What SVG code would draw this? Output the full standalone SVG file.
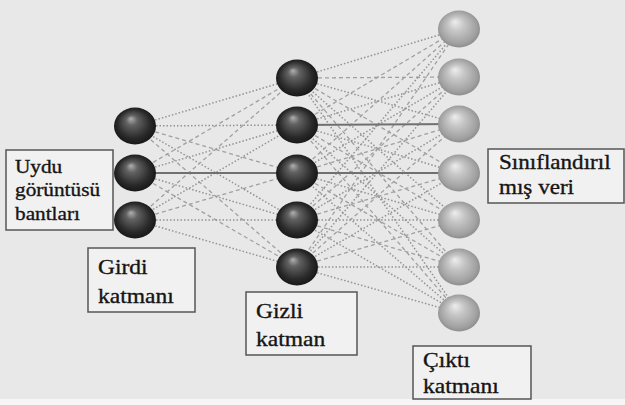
<svg xmlns="http://www.w3.org/2000/svg" width="625" height="405" viewBox="0 0 625 405">
<defs>
<radialGradient id="dark" cx="0.5" cy="0.5" r="0.55" fx="0.4" fy="0.3">
<stop offset="0" stop-color="#b0b0b0"/>
<stop offset="0.25" stop-color="#626262"/>
<stop offset="0.7" stop-color="#2a2a2a"/>
<stop offset="1" stop-color="#121212"/>
</radialGradient>
<radialGradient id="light" cx="0.5" cy="0.5" r="0.55" fx="0.4" fy="0.3">
<stop offset="0" stop-color="#eeeeee"/>
<stop offset="0.35" stop-color="#c6c6c6"/>
<stop offset="0.8" stop-color="#a0a0a0"/>
<stop offset="1" stop-color="#848484"/>
</radialGradient>
</defs>
<style>
.dt{stroke:#939393;stroke-width:1.5;stroke-dasharray:1.5 2;fill:none}
.ds{stroke:#a0a0a0;stroke-width:1.3;stroke-dasharray:4 3;fill:none}
.sl{stroke:#707070;stroke-width:2.2;fill:none}
.dk{fill:url(#dark)}
.lt{fill:url(#light)}
.box{fill:#f1f1f1;stroke:#555;stroke-width:1.5}
text{font-family:"Liberation Serif","Times New Roman",serif;fill:#151515;stroke:#151515;stroke-width:0.35}
</style>
<rect x="0" y="0" width="625" height="405" fill="#e8e8e8"/>
<rect x="0" y="399" width="625" height="6" fill="#f6f6f6"/>
<g id="connectors">
<line class="dt" x1="135" y1="126" x2="297" y2="78"/>
<line class="dt" x1="135" y1="126" x2="297" y2="125"/>
<line class="ds" x1="135" y1="126" x2="297" y2="173"/>
<line class="dt" x1="135" y1="126" x2="297" y2="220"/>
<line class="ds" x1="135" y1="126" x2="297" y2="267"/>
<line class="ds" x1="135" y1="173" x2="297" y2="78"/>
<line class="dt" x1="135" y1="173" x2="297" y2="125"/>
<line class="dt" x1="135" y1="173" x2="297" y2="220"/>
<line class="ds" x1="135" y1="173" x2="297" y2="267"/>
<line class="ds" x1="135" y1="220" x2="297" y2="78"/>
<line class="dt" x1="135" y1="220" x2="297" y2="125"/>
<line class="ds" x1="135" y1="220" x2="297" y2="173"/>
<line class="dt" x1="135" y1="220" x2="297" y2="220"/>
<line class="dt" x1="135" y1="220" x2="297" y2="267"/>
<line class="sl" x1="135" y1="173" x2="297" y2="173"/>

<line class="dt" x1="297" y1="78" x2="459" y2="29"/>
<line class="ds" x1="297" y1="78" x2="459" y2="77"/>
<line class="dt" x1="297" y1="78" x2="459" y2="124"/>
<line class="ds" x1="297" y1="78" x2="459" y2="173"/>
<line class="dt" x1="297" y1="78" x2="459" y2="220"/>
<line class="ds" x1="297" y1="78" x2="459" y2="267"/>
<line class="dt" x1="297" y1="78" x2="459" y2="313"/>

<line class="ds" x1="297" y1="125" x2="459" y2="29"/>
<line class="dt" x1="297" y1="125" x2="459" y2="77"/>
<line class="dt" x1="297" y1="125" x2="459" y2="173"/>
<line class="ds" x1="297" y1="125" x2="459" y2="220"/>
<line class="dt" x1="297" y1="125" x2="459" y2="267"/>
<line class="ds" x1="297" y1="125" x2="459" y2="313"/>

<line class="ds" x1="297" y1="173" x2="459" y2="29"/>
<line class="dt" x1="297" y1="173" x2="459" y2="77"/>
<line class="ds" x1="297" y1="173" x2="459" y2="124"/>
<line class="dt" x1="297" y1="173" x2="459" y2="220"/>
<line class="ds" x1="297" y1="173" x2="459" y2="267"/>
<line class="dt" x1="297" y1="173" x2="459" y2="313"/>

<line class="dt" x1="297" y1="220" x2="459" y2="29"/>
<line class="ds" x1="297" y1="220" x2="459" y2="77"/>
<line class="dt" x1="297" y1="220" x2="459" y2="124"/>
<line class="ds" x1="297" y1="220" x2="459" y2="173"/>
<line class="dt" x1="297" y1="220" x2="459" y2="220"/>
<line class="ds" x1="297" y1="220" x2="459" y2="267"/>
<line class="dt" x1="297" y1="220" x2="459" y2="313"/>

<line class="ds" x1="297" y1="267" x2="459" y2="29"/>
<line class="dt" x1="297" y1="267" x2="459" y2="77"/>
<line class="ds" x1="297" y1="267" x2="459" y2="124"/>
<line class="dt" x1="297" y1="267" x2="459" y2="173"/>
<line class="ds" x1="297" y1="267" x2="459" y2="220"/>
<line class="dt" x1="297" y1="267" x2="459" y2="267"/>
<line class="dt" x1="297" y1="267" x2="459" y2="313"/>

<line class="sl" x1="297" y1="125" x2="459" y2="124"/>
<line class="sl" x1="297" y1="173" x2="459" y2="173"/>
</g>
<g id="input-layer">
<ellipse class="dk" cx="135" cy="126" rx="21" ry="18.5"/>
<ellipse class="dk" cx="135" cy="173" rx="21" ry="18.5"/>
<ellipse class="dk" cx="135" cy="220" rx="21" ry="18.5"/>
</g>
<g id="hidden-layer">
<ellipse class="dk" cx="297" cy="78" rx="21" ry="18.5"/>
<ellipse class="dk" cx="297" cy="125" rx="21" ry="18.5"/>
<ellipse class="dk" cx="297" cy="173" rx="21" ry="18.5"/>
<ellipse class="dk" cx="297" cy="220" rx="21" ry="18.5"/>
<ellipse class="dk" cx="297" cy="267" rx="21" ry="18.5"/>
</g>
<g id="output-layer">
<ellipse class="lt" cx="459" cy="29" rx="21" ry="18.5"/>
<ellipse class="lt" cx="459" cy="77" rx="21" ry="18.5"/>
<ellipse class="lt" cx="459" cy="124" rx="21" ry="18.5"/>
<ellipse class="lt" cx="459" cy="173" rx="21" ry="18.5"/>
<ellipse class="lt" cx="459" cy="220" rx="21" ry="18.5"/>
<ellipse class="lt" cx="459" cy="267" rx="21" ry="18.5"/>
<ellipse class="lt" cx="459" cy="313" rx="21" ry="18.5"/>
</g>
<g id="label-input-bands">
<rect class="box" x="6" y="150" width="107" height="80"/>
<text font-size="19" transform="translate(15,173) scale(1.12,1)"><tspan x="0" y="0">Uydu</tspan><tspan x="0" y="23.5">görüntüsü</tspan><tspan x="0" y="47">bantları</tspan></text>
</g>
<g id="label-input-layer">
<rect class="box" x="88" y="248" width="107" height="64"/>
<text font-size="21" transform="translate(98,274) scale(1.12,1)"><tspan x="0" y="0">Girdi</tspan><tspan x="0" y="29">katmanı</tspan></text>
</g>
<g id="label-hidden-layer">
<rect class="box" x="246" y="292" width="111" height="63"/>
<text font-size="21" transform="translate(256,318) scale(1.12,1)"><tspan x="0" y="0">Gizli</tspan><tspan x="0" y="28">katman</tspan></text>
</g>
<g id="label-output-layer">
<rect class="box" x="413" y="346" width="118" height="53"/>
<text font-size="21" transform="translate(423,367) scale(1.12,1)"><tspan x="0" y="0">Çıktı</tspan><tspan x="0" y="26">katmanı</tspan></text>
</g>
<g id="label-classified">
<rect class="box" x="488" y="149" width="136" height="54"/>
<text font-size="21" transform="translate(499,169) scale(1.1,1)"><tspan x="0" y="0">Sınıflandırıl</tspan><tspan x="0" y="25">mış veri</tspan></text>
</g>
</svg>
